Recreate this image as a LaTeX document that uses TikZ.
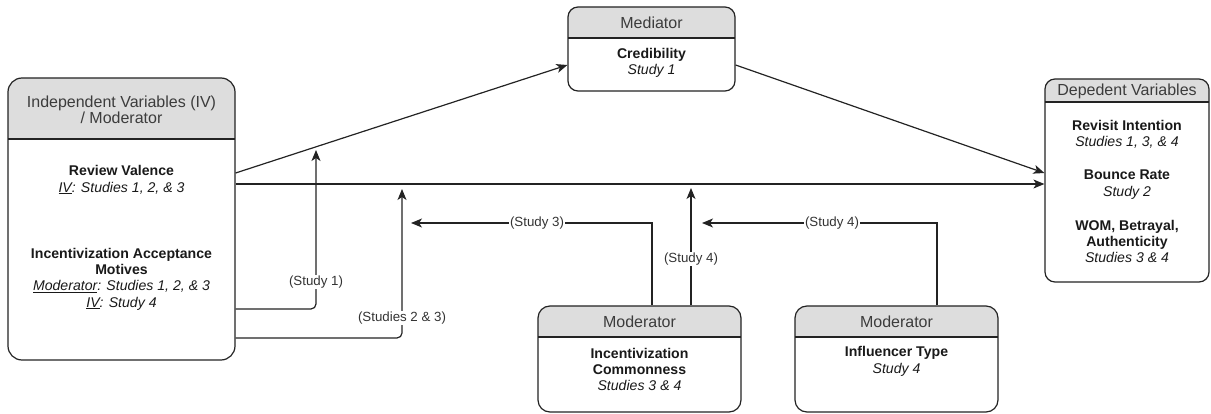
\documentclass[tikz,border=0pt]{standalone}
\usepackage{fontspec}
\setmainfont{Liberation Sans}
\usetikzlibrary{arrows.meta,fit}
\definecolor{hdr}{RGB}{221,221,221}
\definecolor{edge}{RGB}{35,35,35}
\definecolor{htxt}{RGB}{60,60,60}
\tikzset{
 boxline/.style={draw=edge, line width=1.2pt},
 conn/.style={draw=edge, line width=1.2pt},
 arr/.style={conn, -{Stealth[length=11pt,width=9pt,inset=3pt]}},
 hdrtext/.style={font=\fontsize{16}{16}\selectfont, text=htxt, align=center, inner sep=0pt},
 body/.style={font=\fontsize{14.1}{16.3}\selectfont, align=center, inner sep=0pt, text=black!90},
 lbl/.style={font=\fontsize{13.3}{14}\selectfont, fill=white, inner sep=1pt, text=black!80},
}
\newcommand\umlbox[7]{%
 \begin{scope}
 \clip (#2-2,#3-2) rectangle (#4+2,#6);
 \fill[hdr, rounded corners=#7] (#2,#3) rectangle (#4,#5);
 \end{scope}
 \draw[boxline] (#2,#6) -- (#4,#6);
 \node[fit={(#2,#3) (#4,#5)}, inner sep=0pt, boxline, rounded corners=#7] (#1) {};
}
\begin{document}
\begin{tikzpicture}[x=1pt,y=-1pt]
\useasboundingbox (0,0) rectangle (1211,414);
% boxes
\umlbox{iv}{8}{78}{235}{360}{139}{14pt}
\umlbox{med}{568}{7}{735}{91}{38}{10pt}
\umlbox{dv}{1045}{79}{1209}{282}{102}{10pt}
\umlbox{modA}{538}{306}{741}{412}{337}{12pt}
\umlbox{modB}{795}{306}{998}{412}{337}{12pt}
% headers
\node[hdrtext] (ivh) at (121.5,110) {Independent Variables (IV)\\/ Moderator};
\node[hdrtext] (medh) at (651.5,23) {Mediator};
\node[hdrtext] (dvh) at (1127,91) {Depedent Variables};
\node[hdrtext] (modAh) at (639.5,322) {Moderator};
\node[hdrtext] (modBh) at (896.5,322) {Moderator};
% body texts
\node[body] (rv) at (121.5,180) {\textbf{Review Valence}\\\textit{\underline{IV}: Studies 1, 2, \& 3}};
\node[body] (iam) at (121.5,279) {\textbf{Incentivization Acceptance}\\\textbf{Motives}\\\textit{\underline{Moderator}: Studies 1, 2, \& 3}\\\textit{\underline{IV}: Study 4}};
\node[body] (cred) at (651.5,63) {\textbf{Credibility}\\\textit{Study 1}};
\node[body] (ri) at (1127,134.5) {\textbf{Revisit Intention}\\\textit{Studies 1, 3, \& 4}};
\node[body] (br) at (1127,184.5) {\textbf{Bounce Rate}\\\textit{Study 2}};
\node[body] (wom) at (1127,241.5) {\textbf{WOM, Betrayal,}\\\textbf{Authenticity}\\\textit{Studies 3 \& 4}};
\node[body] (ic) at (639.5,369.5) {\textbf{Incentivization}\\\textbf{Commonness}\\\textit{Studies 3 \& 4}};
\node[body] (it) at (896.5,361.5) {\textbf{Influencer Type}\\\textit{Study 4}};
% helper coordinates
\coordinate (t1) at (316,150);
\coordinate (t23) at (402,189);
\coordinate (t3) at (411,223);
\coordinate (t4v) at (691,188);
\coordinate (t4h) at (702,223);
% connectors
\draw[arr] (iv.east |- 0,173) -- (med.west |- 0,65);
\draw[arr] (med.east |- 0,65) -- (dv.west |- 0,173);
\draw[arr] (iv.east |- 0,184) -- (dv.west |- 0,184);
\draw[arr, rounded corners=5pt] (iv.east |- 0,309) -| (t1);
\draw[arr, rounded corners=5pt] (iv.east |- 0,338) -| (t23);
\draw[arr] (modA.north -| 652,0) |- (t3);
\draw[arr] (modA.north -| 691,0) -- (t4v);
\draw[arr] (modB.north -| 937,0) |- (t4h);
% labels
\node[lbl] (l1) at (316,282) {(Study 1)};
\node[lbl] (l23) at (402,318) {(Studies 2 \& 3)};
\node[lbl] (l3) at (537,223) {(Study 3)};
\node[lbl] (l4v) at (691,259) {(Study 4)};
\node[lbl] (l4h) at (832,223) {(Study 4)};
\end{tikzpicture}
\end{document}
